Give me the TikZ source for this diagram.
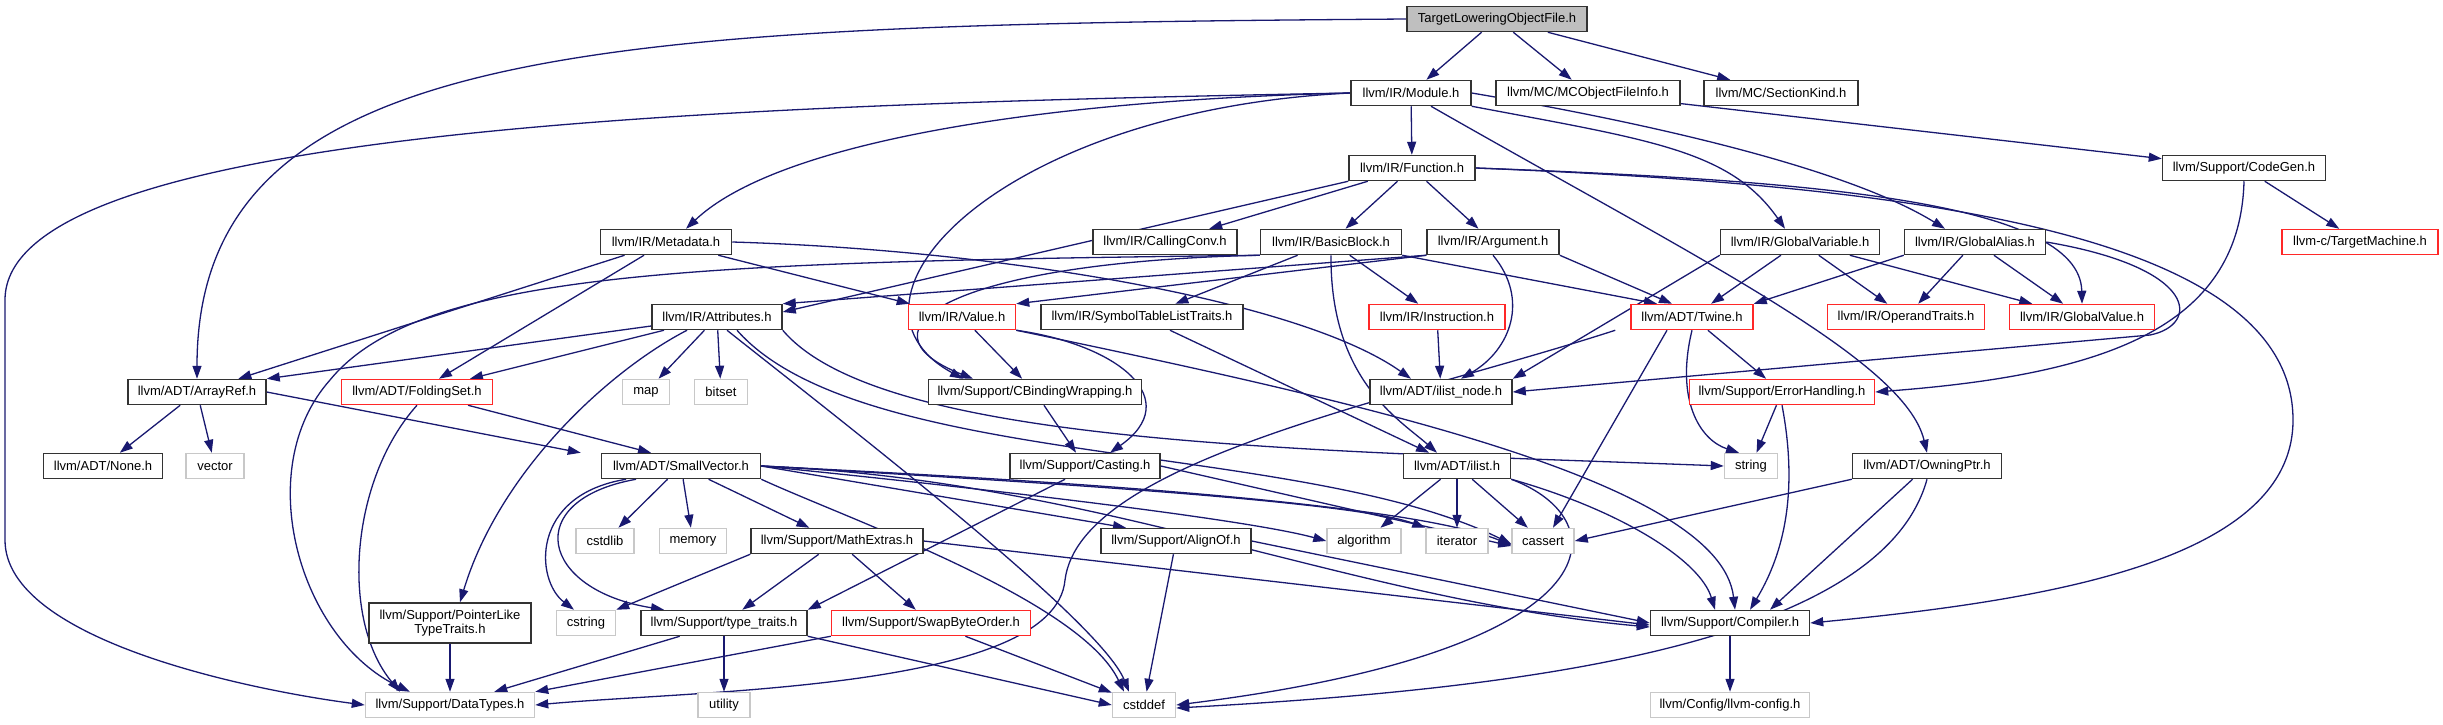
\documentclass[tikz,border=0pt]{standalone}
\usepackage{fontspec}
\newfontfamily\dotfont{Liberation Sans}
\usetikzlibrary{arrows.meta, backgrounds}
\definecolor{edgeblue}{RGB}{25, 25, 112}
\definecolor{truncred}{RGB}{255, 40, 40}
\definecolor{sysgray}{RGB}{200, 200, 200}

\begin{document}
\begin{tikzpicture}[x=1pt, y=-1pt,
    hdr/.style={draw=black!80, line width=1.5pt, fill=white, minimum height=25pt, inner xsep=4pt, inner ysep=2pt, font={\dotfont\fontsize{13}{15}\selectfont}},
    trunc/.style={hdr, draw=truncred},
    sys/.style={hdr, draw=sysgray},
    e/.style={-{Triangle[length=13pt,width=9pt]}, draw=edgeblue, line width=1.3pt}]
    \useasboundingbox (0,0) rectangle (2443,724);

    \node[hdr, fill=black!25, minimum width=180pt] (tlof) at (1497,19) {TargetLoweringObjectFile.h};

    \node[hdr, minimum width=120pt] (module) at (1411,93) {llvm/IR/Module.h};
    \node[hdr, minimum width=184pt] (mcofi) at (1588,93) {llvm/MC/MCObjectFileInfo.h};
    \node[hdr, minimum width=154pt] (seckind) at (1781,93) {llvm/MC/SectionKind.h};

    \node[hdr, minimum width=126pt] (function) at (1412,168) {llvm/IR/Function.h};
    \node[hdr, minimum width=163pt] (codegen) at (2244,168) {llvm/Support/CodeGen.h};

    \node[hdr, minimum width=131pt] (metadata) at (666,242) {llvm/IR/Metadata.h};
    \node[hdr, minimum width=144pt] (callconv) at (1165,242) {llvm/IR/CallingConv.h};
    \node[hdr, minimum width=141pt] (basicblock) at (1331,242) {llvm/IR/BasicBlock.h};
    \node[hdr, minimum width=132pt] (argument) at (1493,242) {llvm/IR/Argument.h};
    \node[hdr, minimum width=159pt] (globalvar) at (1800,242) {llvm/IR/GlobalVariable.h};
    \node[hdr, minimum width=141pt] (globalalias) at (1975,242) {llvm/IR/GlobalAlias.h};
    \node[trunc, minimum width=156pt] (targetmachine) at (2360,242) {llvm-c/TargetMachine.h};

    \node[hdr, minimum width=130pt] (attributes) at (717,317) {llvm/IR/Attributes.h};
    \node[trunc, minimum width=107pt] (value) at (962,317) {llvm/IR/Value.h};
    \node[hdr, minimum width=202pt] (symtab) at (1142,317) {llvm/IR/SymbolTableListTraits.h};
    \node[trunc, minimum width=136pt] (instruction) at (1437,317) {llvm/IR/Instruction.h};
    \node[trunc, minimum width=122pt] (twine) at (1692,317) {llvm/ADT/Twine.h};
    \node[trunc, minimum width=157pt] (operandtraits) at (1906,317) {llvm/IR/OperandTraits.h};
    \node[trunc, minimum width=145pt] (globalvalue) at (2082,317) {llvm/IR/GlobalValue.h};

    \node[hdr, minimum width=138pt] (arrayref) at (197,392) {llvm/ADT/ArrayRef.h};
    \node[trunc, minimum width=151pt] (foldingset) at (417,392) {llvm/ADT/FoldingSet.h};
    \node[sys, minimum width=47pt] (map) at (646,392) {map};
    \node[sys, minimum width=53pt] (bitset) at (721,392) {bitset};
    \node[hdr, minimum width=213pt] (cbinding) at (1035,392) {llvm/Support/CBindingWrapping.h};
    \node[hdr, minimum width=142pt] (ilistnode) at (1441,392) {llvm/ADT/ilist\_node.h};
    \node[trunc, minimum width=185pt] (errorhandling) at (1782,392) {llvm/Support/ErrorHandling.h};

    \node[hdr, minimum width=119pt] (none) at (103,466) {llvm/ADT/None.h};
    \node[sys, minimum width=58pt] (vector) at (215,466) {vector};
    \node[hdr, minimum width=159pt] (smallvector) at (681,466) {llvm/ADT/SmallVector.h};
    \node[hdr, minimum width=150pt] (casting) at (1085,466) {llvm/Support/Casting.h};
    \node[hdr, minimum width=107pt] (ilist) at (1457,466) {llvm/ADT/ilist.h};
    \node[sys, minimum width=53pt] (string) at (1751,466) {string};
    \node[hdr, minimum width=149pt] (owningptr) at (1927,466) {llvm/ADT/OwningPtr.h};

    \node[sys, minimum width=58pt] (cstdlib) at (605,541) {cstdlib};
    \node[sys, minimum width=67pt] (memory) at (693,541) {memory};
    \node[hdr, minimum width=172pt] (mathextras) at (837,541) {llvm/Support/MathExtras.h};
    \node[hdr, minimum width=150pt] (alignof) at (1176,541) {llvm/Support/AlignOf.h};
    \node[sys, minimum width=74pt] (algorithm) at (1364,541) {algorithm};
    \node[sys, minimum width=62pt] (iterator) at (1457,541) {iterator};
    \node[sys, minimum width=62pt] (cassert) at (1543,541) {cassert};

    \node[hdr, minimum width=162pt, minimum height=40pt, align=center, inner ysep=1pt] (pointerlike) at (450,623) {llvm/Support/PointerLike\\[-1pt]TypeTraits.h};
    \node[sys, minimum width=59pt] (cstring) at (586,623) {cstring};
    \node[hdr, minimum width=166pt] (typetraits) at (724,623) {llvm/Support/type\_traits.h};
    \node[trunc, minimum width=199pt] (swapbyteorder) at (931,623) {llvm/Support/SwapByteOrder.h};
    \node[hdr, minimum width=159pt] (compiler) at (1730,623) {llvm/Support/Compiler.h};

    \node[sys, minimum width=169pt] (datatypes) at (450,705) {llvm/Support/DataTypes.h};
    \node[sys, minimum width=52pt] (utility) at (724,705) {utility};
    \node[sys, minimum width=63pt] (cstddef) at (1144,705) {cstddef};
    \node[sys, minimum width=159pt] (llvmconfig) at (1730,705) {llvm/Config/llvm-config.h};

    \begin{pgfonlayer}{background}
    \draw[e] (tlof) -- (module);
    \draw[e] (tlof) -- (mcofi);
    \draw[e] (tlof) -- (seckind);
    \draw[e] (tlof.west) .. controls (600,25) and (197,40) .. (arrayref.north);

    \draw[e] (module) -- (function);
    \draw[e] (module.west) .. controls (1050,100) and (780,140) .. ([xshift=20pt]metadata.north);
    \draw[e] (module.west) .. controls (700,105) and (5,130) .. (5,300) -- (5,540) .. controls (5,640) and (250,690) .. (datatypes.west);
    \draw[e] (module.west) .. controls (1000,110) and (820,300) .. ([xshift=-72pt]cbinding.north);
    \draw[e] (module.south east) .. controls (1650,140) and (1730,150) .. ([xshift=-15pt]globalvar.north);
    \draw[e] (module.east) .. controls (1660,125) and (1850,170) .. ([xshift=-30pt]globalalias.north);
    \draw[e] ([xshift=20pt]module.south) .. controls (1700,260) and (1905,360) .. (owningptr.north);
    \draw[e] (mcofi) -- (codegen);

    \draw[e] (function) -- (callconv);
    \draw[e] (function) -- (basicblock);
    \draw[e] (function) -- (argument);
    \draw[e] (function.south west) -- ([yshift=5pt]attributes.east);
    \draw[e] (function.east) .. controls (1800,180) and (2080,200) .. (globalvalue.north);
    \draw[e] (function.east) .. controls (1900,185) and (2293,230) .. (2293,420) .. controls (2293,560) and (2050,600) .. (compiler.east);

    \draw[e] (codegen) -- (targetmachine);
    \draw[e] (codegen.south) .. controls (2240,330) and (2100,375) .. (errorhandling.east);

    \draw[e] (metadata) -- (value);
    \draw[e] (metadata) -- (arrayref);
    \draw[e] (metadata) -- (foldingset);
    \draw[e] (metadata.east) .. controls (1000,250) and (1300,300) .. ([xshift=-30pt]ilistnode.north);

    \draw[e] (basicblock) -- (symtab);
    \draw[e] (basicblock) -- (instruction);
    \draw[e] (basicblock.south east) -- ([xshift=-35pt]twine.north);
    \draw[e] (basicblock.south) .. controls (1330,380) and (1400,420) .. ([xshift=-20pt]ilist.north);
    \draw[e] (basicblock.south west) .. controls (950,262) and (850,330) .. ([xshift=-62pt]cbinding.north);
    \draw[e] (basicblock.south west) .. controls (700,262) and (420,270) .. (330,380) .. controls (250,470) and (300,640) .. ([xshift=-40pt]datatypes.north);

    \draw[e] (argument.south west) -- (attributes.north east);
    \draw[e] (argument.south west) -- (value.north east);
    \draw[e] (argument.south east) -- ([xshift=-20pt]twine.north);
    \draw[e] (argument.south) .. controls (1530,300) and (1510,350) .. ([xshift=20pt]ilistnode.north);

    \draw[e] (globalvar) -- (twine);
    \draw[e] (globalvar.south west) -- (ilistnode.north east);
    \draw[e] (globalvar) -- (operandtraits);
    \draw[e] (globalvar) -- (globalvalue);

    \draw[e] (globalalias.south west) -- (twine.north east);
    \draw[e] (globalalias) -- (operandtraits);
    \draw[e] (globalalias) -- (globalvalue);
    \draw[e] (globalalias.east) .. controls (2200,268) and (2200,325) .. (2150,335) -- (ilistnode.east);

    \draw[e] (attributes) -- (arrayref.north east);
    \draw[e] (attributes) -- (foldingset);
    \draw[e] (attributes) -- (map);
    \draw[e] (attributes) -- (bitset);
    \draw[e] ([xshift=-30pt]attributes.south) .. controls (610,370) and (500,470) .. ([xshift=10pt]pointerlike.north);
    \draw[e] ([xshift=10pt]attributes.south) .. controls (840,420) and (1100,620) .. ([xshift=-15pt]cstddef.north);
    \draw[e] ([xshift=20pt]attributes.south) .. controls (860,470) and (1300,440) .. ([yshift=-3pt]cassert.west);
    \draw[e] (attributes.south east) .. controls (880,445) and (1300,450) .. (string.west);

    \draw[e] (value) -- (cbinding);
    \draw[e] (value.south east) .. controls (1120,345) and (1185,400) .. ([xshift=25pt]casting.north);
    \draw[e] (value.south east) .. controls (1350,400) and (1720,480) .. ([xshift=5pt]compiler.north);

    \draw[e] (symtab) -- (ilist);
    \draw[e] (instruction) -- (ilistnode);

    \draw[e] (twine) -- (errorhandling);
    \draw[e] (twine.south) .. controls (1675,400) and (1700,440) .. ([xshift=-12pt]string.north);
    \draw[e] ([xshift=-25pt]twine.south) -- ([xshift=10pt]cassert.north);
    \draw[e] ([xshift=-15pt]twine.south west) .. controls (1400,400) and (1080,460) .. (1065,580) .. controls (1055,690) and (700,690) .. (datatypes.east);

    \draw[e] (errorhandling) -- (string);
    \draw[e] (errorhandling.south) .. controls (1800,500) and (1780,560) .. ([xshift=20pt]compiler.north);

    \draw[e] (cbinding) -- (casting);
    \draw[e] (casting.east) -- ([yshift=-5pt]cassert.west);
    \draw[e] ([xshift=-20pt]casting.south) -- (typetraits.north east);

    \draw[e] (ilist) -- (algorithm);
    \draw[e] (ilist) -- (iterator);
    \draw[e] (ilist) -- (cassert);
    \draw[e] (ilist.south east) .. controls (1620,510) and (1700,560) .. ([xshift=-15pt]compiler.north);
    \draw[e] (ilist.south east) .. controls (1620,520) and (1620,650) .. (cstddef.east);

    \draw[e] (owningptr.south west) -- (cassert.east);
    \draw[e] (owningptr) -- ([xshift=40pt]compiler.north);
    \draw[e] (owningptr.south) .. controls (1880,650) and (1500,690) .. ([yshift=-3pt]cstddef.east);

    \draw[e] (arrayref) -- (none);
    \draw[e] (arrayref) -- (vector);
    \draw[e] (arrayref.east) -- ([xshift=-20pt]smallvector.north west);
    \draw[e] (foldingset) -- ([xshift=-30pt]smallvector.north);
    \draw[e] (foldingset.south) .. controls (350,480) and (340,620) .. ([xshift=-50pt]datatypes.north);

    \draw[e] (smallvector) -- (cstdlib);
    \draw[e] (smallvector) -- (memory);
    \draw[e] (smallvector) -- (mathextras);
    \draw[e] ([xshift=-55pt]smallvector.south) .. controls (530,495) and (535,580) .. ([xshift=-12pt]cstring.north);
    \draw[e] ([xshift=-45pt]smallvector.south) .. controls (520,500) and (540,590) .. ([xshift=-60pt]typetraits.north);
    \draw[e] (smallvector.east) -- ([xshift=-50pt]alignof.north);
    \draw[e] (smallvector.east) .. controls (1000,490) and (1250,520) .. (algorithm.west);
    \draw[e] (smallvector.east) .. controls (1000,480) and (1350,500) .. (iterator.north west);
    \draw[e] (smallvector.east) .. controls (1000,478) and (1400,500) .. ([yshift=-4pt]cassert.west);
    \draw[e] (smallvector.east) .. controls (1100,480) and (1350,600) .. ([yshift=-4pt]compiler.west);
    \draw[e] (smallvector.south east) .. controls (850,520) and (1080,600) .. ([xshift=-20pt]cstddef.north);

    \draw[e] (mathextras) -- (typetraits);
    \draw[e] (mathextras) -- (swapbyteorder);
    \draw[e] (mathextras.south west) -- (cstring.north east);
    \draw[e] (mathextras.east) -- ([yshift=-2pt]compiler.west);

    \draw[e] (alignof) -- (cstddef);
    \draw[e] (alignof.east) -- (compiler.west);

    \draw[e] (typetraits) -- (datatypes);
    \draw[e] (typetraits) -- (utility);
    \draw[e] (typetraits.south east) -- (cstddef.west);
    \draw[e] (swapbyteorder.south west) -- (datatypes.north east);
    \draw[e] (swapbyteorder) -- (cstddef);
    \draw[e] (pointerlike) -- (datatypes);
    \draw[e] (compiler) -- (llvmconfig);
    \end{pgfonlayer}
\end{tikzpicture}
\end{document}
